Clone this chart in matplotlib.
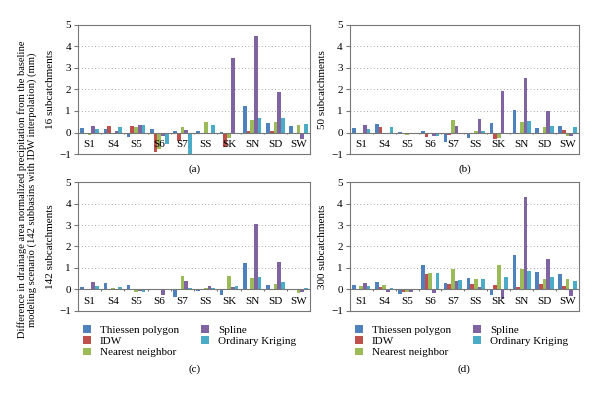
import matplotlib
matplotlib.use("Agg")
import matplotlib.pyplot as plt
import numpy as np

plt.rcParams["font.family"] = ["Liberation Serif", "DejaVu Serif"]

categories = ["S1", "S4", "S5", "S6", "S7", "SS", "SK", "SN", "SD", "SW"]
methods = ["Thiessen polygon", "IDW", "Nearest neighbor", "Spline", "Ordinary Kriging"]
colors = ["#4F81BD", "#C0504D", "#9BBB59", "#8064A2", "#4BACC6"]

# valeurs par méthode (Thiessen, IDW, NN, Spline, OK) pour chaque scénario
sub16 = [
    [0.22, 0.17, -0.22, 0.15, 0.07, 0.05, 0.02, 1.25, 0.42, 0.28],
    [0.00, 0.30, 0.28, -0.90, -0.40, 0.00, -0.65, 0.07, 0.05, -0.08],
    [-0.10, 0.00, 0.25, -0.78, 0.27, 0.50, -0.25, 0.57, 0.47, 0.33],
    [0.30, 0.07, 0.35, -0.15, 0.12, -0.08, 3.45, 4.47, 1.87, -0.30],
    [0.15, 0.27, 0.33, -0.55, -1.00, 0.33, 0.00, 0.68, 0.68, 0.40],
]
sub50 = [
    [0.22, 0.38, 0.03, 0.08, -0.45, -0.27, 0.42, 1.05, 0.22, 0.32],
    [0.00, 0.27, -0.05, -0.20, -0.10, 0.00, -0.30, 0.00, 0.00, 0.10],
    [-0.05, -0.03, -0.10, -0.05, 0.58, 0.07, -0.25, 0.50, 0.27, -0.15],
    [0.37, 0.00, -0.08, -0.15, 0.28, 0.65, 1.95, 2.52, 1.02, -0.17],
    [0.15, 0.27, -0.08, -0.17, 0.00, 0.05, -0.03, 0.53, 0.28, 0.25],
]
sub142 = [
    [0.13, 0.30, 0.20, -0.03, -0.37, -0.07, -0.28, 1.25, 0.20, -0.03],
    [0.00, 0.00, 0.00, 0.00, 0.00, 0.00, 0.00, 0.00, 0.00, 0.00],
    [-0.05, 0.07, -0.10, 0.00, 0.62, 0.05, 0.63, 0.52, 0.25, -0.18],
    [0.35, 0.03, -0.08, -0.25, 0.38, 0.17, 0.13, 3.05, 1.27, -0.10],
    [0.15, 0.10, -0.10, -0.05, 0.07, 0.05, 0.15, 0.60, 0.33, 0.07],
]
sub300 = [
    [0.22, 0.33, -0.22, 1.12, 0.32, 0.55, -0.27, 1.58, 0.83, 0.72],
    [0.00, 0.10, -0.10, 0.70, 0.25, 0.25, 0.22, 0.10, 0.23, 0.15],
    [0.18, 0.22, -0.12, 0.78, 0.97, 0.50, 1.12, 0.95, 0.48, 0.50],
    [0.30, -0.10, -0.10, -0.18, 0.38, 0.12, -0.45, 4.30, 1.43, -0.30],
    [0.17, 0.05, -0.05, 0.77, 0.42, 0.50, 0.60, 0.88, 0.57, 0.40],
]

panels = [
    (sub16, "16 subcatchments", "(a)", [0.13, 0.61, 0.387, 0.327], -0.12),
    (sub50, "50 subcatchments", "(b)", [0.583, 0.61, 0.382, 0.327], -0.12),
    (sub142, "142 subcatchments", "(c)", [0.13, 0.213, 0.387, 0.326], -0.45),
    (sub300, "300 subcatchments", "(d)", [0.583, 0.213, 0.382, 0.326], -0.45),
]

fig = plt.figure(figsize=(6, 3.95), dpi=100)
x = np.arange(len(categories))
w = 0.16
axes = []
for data, ylab, tag, rect, tag_y in panels:
    ax = fig.add_axes(rect)
    for i, vals in enumerate(data):
        ax.bar(x + (i - 2) * w, vals, w, color=colors[i], label=methods[i], zorder=3)
    ax.set_xlim(-0.5, len(categories) - 0.5)
    ax.set_ylim(-1, 5)
    ax.set_yticks(range(-1, 6))
    ax.set_yticklabels(["\u22121", "0", "1", "2", "3", "4", "5"])
    for yv in range(1, 5):
        ax.axhline(yv, color="#888888", lw=0.6, ls=(0, (1, 3)), zorder=1)
    ax.axhline(0, color="#777777", lw=0.8, zorder=4)
    ax.vlines(x[:-1] + 0.5, -0.08, 0, color="#777777", lw=0.8, zorder=4)
    for xi, c in zip(x, categories):
        ax.text(xi, -0.55, c, ha="center", va="center", fontsize=8, zorder=5)
    ax.set_xticks([])
    ax.tick_params(axis="y", labelsize=8, length=3, color="#777777", pad=2)
    for s in ax.spines.values():
        s.set_color("#777777")
        s.set_linewidth(0.8)
    ax.set_ylabel(ylab, fontsize=8)
    ax.yaxis.set_label_coords(-0.1, 0.5)
    ax.text(0.5, tag_y, tag, transform=ax.transAxes, ha="center", va="center", fontsize=8)
    axes.append(ax)

for ax in (axes[2], axes[3]):
    h, l = ax.get_legend_handles_labels()
    ax.legend(h, l, ncol=2, loc="upper left", bbox_to_anchor=(-0.02, -0.03),
              frameon=False, fontsize=8, handlelength=0.7, handleheight=0.7,
              labelspacing=0.15, columnspacing=2.0, handletextpad=0.8)

fig.text(0.045, 0.52,
         "Difference in drainage area normalized precipitation from the baseline\n"
         "modeling scenario (142 subbasins with IDW interpolation) (mm)",
         rotation=90, ha="center", va="center", fontsize=7.6, linespacing=1.1)

fig.savefig("out.png", dpi=100)
